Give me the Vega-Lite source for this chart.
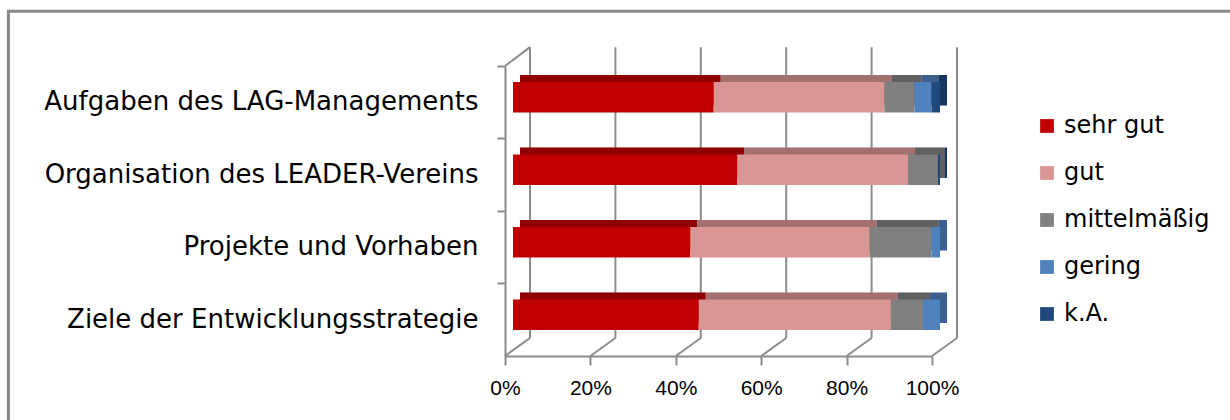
{
  "$schema": "https://vega.github.io/schema/vega-lite/v6.json",
  "width": 427,
  "height": 290,
  "autosize": {"type": "none"},
  "padding": {"left": 505, "top": 66, "right": 298, "bottom": 64},
  "background": "white",
  "config": {
    "view": {"stroke": null},
    "font": "Liberation Sans"
  },
  "layer": [
    {
      "data": {"values": [{"t": 0}, {"t": 0.2}, {"t": 0.4}, {"t": 0.6}, {"t": 0.8}, {"t": 1}]},
      "mark": {"type": "rule", "color": "#8c8c8c", "strokeWidth": 2, "xOffset": 25},
      "encoding": {
        "x": {"field": "t", "type": "quantitative", "scale": {"domain": [0, 1]}, "title": null,
              "axis": {"format": "%", "values": [0, 0.2, 0.4, 0.6, 0.8, 1], "grid": false,
                       "labelFont": "Liberation Sans", "labelFontSize": 21, "labelColor": "black",
                       "labelPadding": 12, "tickSize": 9, "tickWidth": 2, "tickColor": "#8c8c8c",
                       "domainColor": "#8c8c8c", "domainWidth": 2, "labelFlush": false}},
        "y": {"datum": "Aufgaben des LAG-Managements", "type": "nominal", "bandPosition": -1.31,
              "scale": {"domain": ["Aufgaben des LAG-Managements", "Organisation des LEADER-Vereins", "Projekte und Vorhaben", "Ziele der Entwicklungsstrategie"],
                        "paddingInner": 0.58, "paddingOuter": 0.29},
              "title": null,
              "axis": {"labelFont": "DejaVu Sans", "labelFontSize": 26, "labelColor": "black",
                       "labelPadding": 19, "tickSize": 8, "tickWidth": 2, "tickColor": "#8c8c8c",
                       "domainColor": "#8c8c8c", "domainWidth": 2, "bandPosition": -0.69, "labelLimit": 600}},
        "y2": {"datum": "Ziele der Entwicklungsstrategie", "bandPosition": 1.1}
      }
    },
    {
      "data": {"values": [{"t": 0}, {"t": 0.2}, {"t": 0.4}, {"t": 0.6}, {"t": 0.8}, {"t": 1}]},
      "mark": {"type": "rule", "color": "#8c8c8c", "strokeWidth": 2, "x2Offset": 25},
      "encoding": {
        "x": {"field": "t", "type": "quantitative"},
        "x2": {"field": "t"},
        "y": {"datum": "Ziele der Entwicklungsstrategie", "type": "nominal", "bandPosition": 1.69},
        "y2": {"datum": "Ziele der Entwicklungsstrategie", "bandPosition": 1.1}
      }
    },
    {
      "data": {"values": [{"t": 0}]},
      "mark": {"type": "rule", "color": "#8c8c8c", "strokeWidth": 2, "x2Offset": 25},
      "encoding": {
        "x": {"field": "t", "type": "quantitative"},
        "x2": {"field": "t"},
        "y": {"datum": "Aufgaben des LAG-Managements", "type": "nominal", "bandPosition": -0.69},
        "y2": {"datum": "Aufgaben des LAG-Managements", "bandPosition": -1.31}
      }
    },
    {
      "data": {"values": [{"rahmen": "links"}]},
      "mark": {"type": "rule", "color": "#888888", "strokeWidth": 3},
      "encoding": {
        "x": {"datum": -1.163, "type": "quantitative"},
        "y": {"datum": "Aufgaben des LAG-Managements", "type": "nominal", "bandPosition": -2.53},
        "y2": {"datum": "Ziele der Entwicklungsstrategie", "bandPosition": 4.5}
      }
    },
    {
      "data": {"values": [{"rahmen": "oben"}]},
      "mark": {"type": "rule", "color": "#888888", "strokeWidth": 3},
      "encoding": {
        "x": {"datum": -1.166, "type": "quantitative"},
        "x2": {"datum": 1.75},
        "y": {"datum": "Aufgaben des LAG-Managements", "type": "nominal", "bandPosition": -2.486}
      }
    },
    {
      "data": {"name": "ratings"},
      "mark": {"type": "bar", "xOffset": 15, "yOffset": -12},
      "encoding": {
        "y": {"field": "kategorie", "type": "nominal", "title": null},
        "x": {"field": "anteil", "type": "quantitative", "stack": "normalize", "title": null},
        "color": {"field": "bewertung", "type": "nominal", "title": null,
                  "scale": {"domain": ["sehr gut", "gut", "mittelmäßig", "gering", "k.A."],
                            "range": ["#C00000", "#D99694", "#808080", "#4F81BD", "#1F497D"]},
                  "legend": {"orient": "none", "legendX": 530, "legendY": 48, "symbolType": "square",
                             "symbolSize": 190, "symbolStrokeWidth": 0, "symbolOpacity": 1,
                             "labelFont": "DejaVu Sans", "labelFontSize": 24, "labelColor": "black",
                             "labelOffset": 5, "rowPadding": 23, "padding": 0}},
        "order": {"field": "rang", "type": "quantitative"}
      }
    },
    {
      "data": {"name": "ratings"},
      "mark": {"type": "bar", "xOffset": 15, "yOffset": -12, "color": "black", "opacity": 0.25},
      "encoding": {
        "y": {"field": "kategorie", "type": "nominal", "title": null},
        "x": {"field": "anteil", "type": "quantitative", "stack": "normalize", "title": null},
        "detail": {"field": "bewertung"},
        "order": {"field": "rang", "type": "quantitative"}
      }
    },
    {
      "data": {"name": "ratings"},
      "mark": {"type": "bar", "xOffset": 8, "yOffset": -5},
      "encoding": {
        "y": {"field": "kategorie", "type": "nominal", "title": null},
        "x": {"field": "anteil", "type": "quantitative", "stack": "normalize", "title": null},
        "color": {"field": "bewertung", "type": "nominal", "title": null},
        "order": {"field": "rang", "type": "quantitative"}
      }
    }
  ],
  "datasets": {
    "ratings": [
      {"kategorie": "Aufgaben des LAG-Managements", "bewertung": "sehr gut", "rang": 1, "anteil": 47},
      {"kategorie": "Aufgaben des LAG-Managements", "bewertung": "gut", "rang": 2, "anteil": 40},
      {"kategorie": "Aufgaben des LAG-Managements", "bewertung": "mittelmäßig", "rang": 3, "anteil": 7},
      {"kategorie": "Aufgaben des LAG-Managements", "bewertung": "gering", "rang": 4, "anteil": 4},
      {"kategorie": "Aufgaben des LAG-Managements", "bewertung": "k.A.", "rang": 5, "anteil": 2},
      {"kategorie": "Organisation des LEADER-Vereins", "bewertung": "sehr gut", "rang": 1, "anteil": 52.5},
      {"kategorie": "Organisation des LEADER-Vereins", "bewertung": "gut", "rang": 2, "anteil": 40},
      {"kategorie": "Organisation des LEADER-Vereins", "bewertung": "mittelmäßig", "rang": 3, "anteil": 7},
      {"kategorie": "Organisation des LEADER-Vereins", "bewertung": "gering", "rang": 4, "anteil": 0},
      {"kategorie": "Organisation des LEADER-Vereins", "bewertung": "k.A.", "rang": 5, "anteil": 0.5},
      {"kategorie": "Projekte und Vorhaben", "bewertung": "sehr gut", "rang": 1, "anteil": 41.5},
      {"kategorie": "Projekte und Vorhaben", "bewertung": "gut", "rang": 2, "anteil": 42},
      {"kategorie": "Projekte und Vorhaben", "bewertung": "mittelmäßig", "rang": 3, "anteil": 14.5},
      {"kategorie": "Projekte und Vorhaben", "bewertung": "gering", "rang": 4, "anteil": 2},
      {"kategorie": "Projekte und Vorhaben", "bewertung": "k.A.", "rang": 5, "anteil": 0},
      {"kategorie": "Ziele der Entwicklungsstrategie", "bewertung": "sehr gut", "rang": 1, "anteil": 43.5},
      {"kategorie": "Ziele der Entwicklungsstrategie", "bewertung": "gut", "rang": 2, "anteil": 45},
      {"kategorie": "Ziele der Entwicklungsstrategie", "bewertung": "mittelmäßig", "rang": 3, "anteil": 7.5},
      {"kategorie": "Ziele der Entwicklungsstrategie", "bewertung": "gering", "rang": 4, "anteil": 4},
      {"kategorie": "Ziele der Entwicklungsstrategie", "bewertung": "k.A.", "rang": 5, "anteil": 0}
    ]
  }
}
